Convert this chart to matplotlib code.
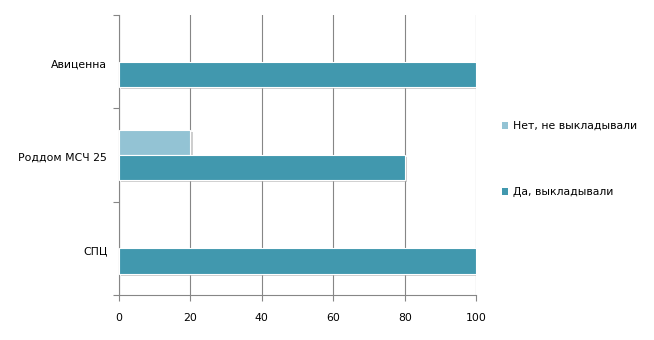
import matplotlib.pyplot as plt
import matplotlib.patheffects as pe
from matplotlib.patches import Patch
import numpy as np

categories = ['Авиценна', 'Роддом МСЧ 25', 'СПЦ']
no_vals = [0, 20, 0]       # Нет, не выкладывали
yes_vals = [100, 80, 100]  # Да, выкладывали
xticks = [0, 20, 40, 60, 80, 100]

c_no = '#93c3d4'
c_yes = '#4198ae'
grey = '#868686'

fig = plt.figure(figsize=(6.54, 3.40), dpi=100)
ax = fig.add_axes([0.182, 0.132, 0.546, 0.824])

# top category first
y = np.arange(len(categories))[::-1]
h = 0.27
shadow = [pe.SimplePatchShadow(offset=(1.5, -1.5), shadow_rgbFace='#b0b0b0', alpha=0.6), pe.Normal()]

bars_no = ax.barh(y + h / 2, no_vals, height=h, color=c_no, edgecolor='white', linewidth=0.8, zorder=3)
bars_yes = ax.barh(y - h / 2, yes_vals, height=h, color=c_yes, edgecolor='white', linewidth=0.8, zorder=3)
for b in list(bars_no) + list(bars_yes):
    if b.get_width() > 0:
        b.set_path_effects(shadow)
    else:
        b.set_visible(False)

ax.set_xlim(0, 100)
ax.set_ylim(-0.5, 2.5)
ax.set_xticks(xticks)
ax.set_xticklabels([str(v) for v in xticks])
ax.set_yticks(y - 0.02)
ax.set_yticklabels(categories)
ax.set_yticks(np.arange(-0.5, 3, 1), minor=True)

ax.grid(axis='x', color=grey, linewidth=0.8, zorder=0)
for s in ['top', 'right']:
    ax.spines[s].set_visible(False)
for s in ['left', 'bottom']:
    ax.spines[s].set_color(grey)
    ax.spines[s].set_linewidth(0.8)

ax.tick_params(axis='y', which='major', length=0, pad=8.5, labelsize=7.8)
ax.tick_params(axis='y', which='minor', length=4, color=grey, width=0.8)
ax.tick_params(axis='x', length=4, color=grey, width=0.8, pad=9, labelsize=7.8)

handles = [Patch(facecolor=c_no, edgecolor='none'), Patch(facecolor=c_yes, edgecolor='none')]
labels = ['Нет, не выкладывали', 'Да, выкладывали']
fig.legend(handles, labels, loc='upper left', bbox_to_anchor=(0.752, 0.673),
           frameon=False, fontsize=7.8, handlelength=0.6, handleheight=0.6,
           handletextpad=0.5, labelspacing=5.2)

fig.savefig('out.png', dpi=100)
